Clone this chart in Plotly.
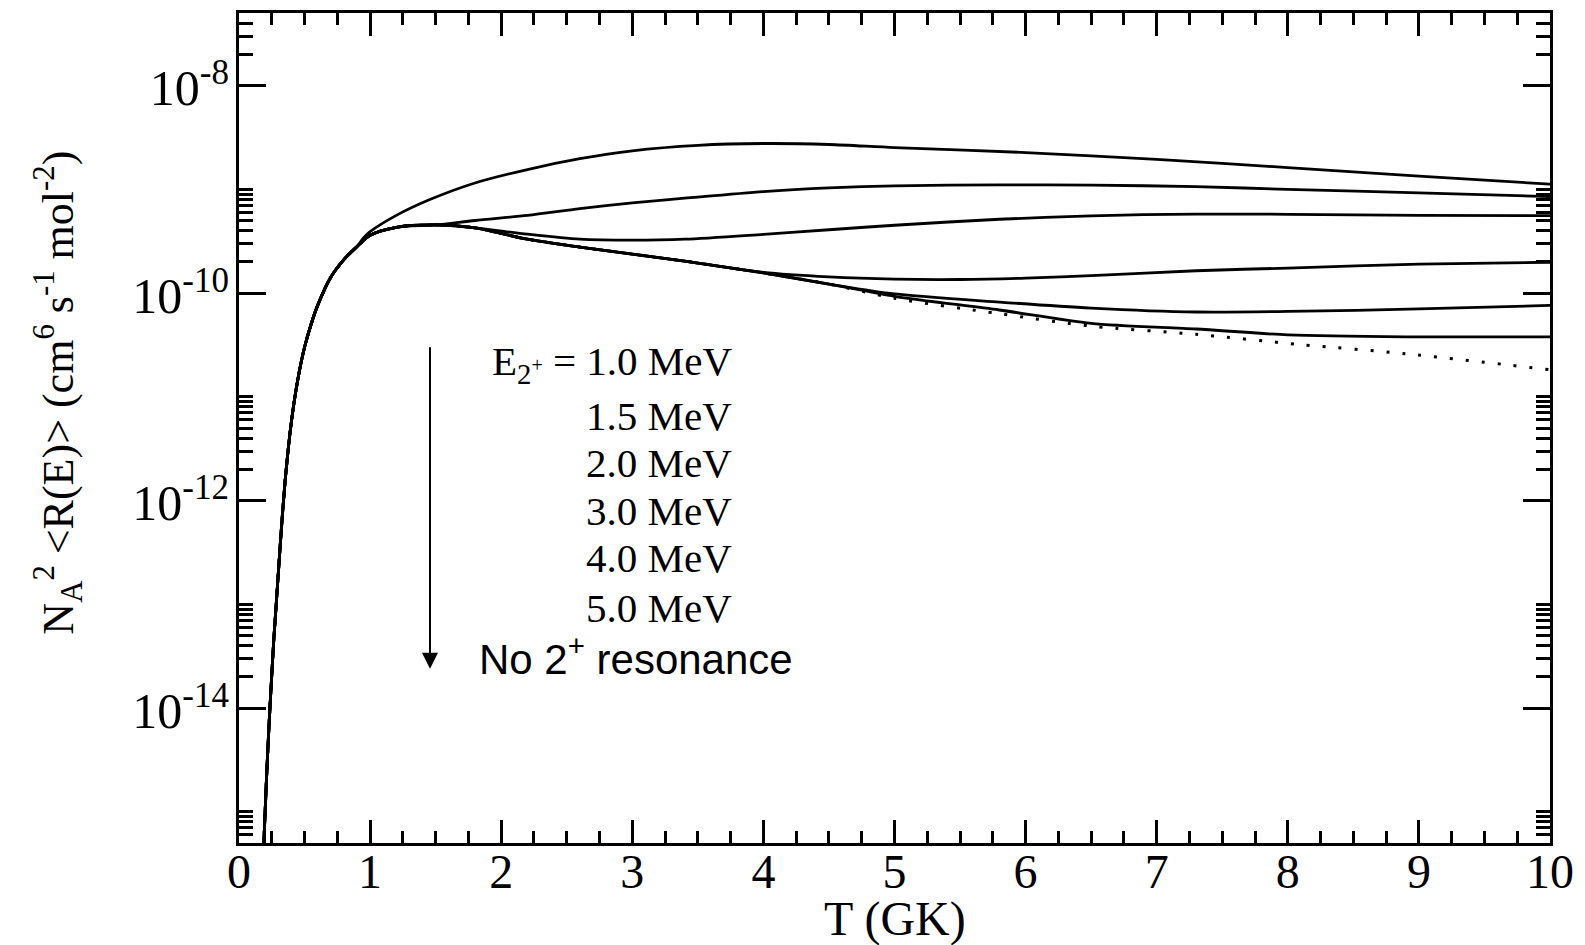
import plotly.graph_objects as go
import numpy as np

# ---------------- data ----------------
# common steep rise shared by every curve, T in GK, rate in cm^6 s^-1 mol^-2
T_rise = [0.18, 0.19, 0.20, 0.21, 0.22, 0.235, 0.25, 0.265, 0.28, 0.30, 0.33, 0.36,
          0.40, 0.45, 0.50, 0.55, 0.60, 0.70, 0.80, 0.90]
R_rise = [1.5e-16, 5.0e-16, 1.05e-15, 2.1e-15, 4.0e-15, 9.5e-15, 2.1e-14, 4.5e-14,
          8.5e-14, 2.0e-13, 7.0e-13, 2.0e-12, 5.8e-12, 1.5e-11, 3.0e-11, 5.0e-11,
          7.6e-11, 1.42e-10, 2.1e-10, 2.8e-10]

# bundle shared by all curves except E = 1.0 MeV
T_peak = [1.0, 1.2, 1.5]
R_peak = [3.6e-10, 4.3e-10, 4.53e-10]

# lower bundle (curves 3.0, 4.0, 5.0 MeV and no resonance; 2.0 MeV leaves after 1.8)
T_low = [1.8, 2.2, 2.6, 3.0, 3.4]
R_low = [4.25e-10, 3.30e-10, 2.77e-10, 2.37e-10, 2.03e-10]

# lowest bundle (4.0, 5.0 MeV and no resonance)
T_low2 = [4.0, 4.5]
R_low2 = [1.56e-10, 1.22e-10]

# individual tails
T_e10 = [0.95, 1.0, 1.2, 1.46, 1.8, 2.2, 2.6, 3.0, 3.5, 4.0, 4.5, 5.0, 6.0, 7.0, 8.0, 9.0, 10.0]
R_e10 = [3.4e-10, 3.9e-10, 5.6e-10, 8.0e-10, 1.15e-9, 1.55e-9, 1.97e-9, 2.35e-9, 2.65e-9,
         2.76e-9, 2.70e-9, 2.52e-9, 2.26e-9, 1.94e-9, 1.62e-9, 1.34e-9, 1.12e-9]

T_e15 = [1.8, 2.2, 2.6, 3.0, 3.4, 4.0, 4.5, 5.0, 5.8, 6.5, 7.3, 8.0, 9.0, 10.0]
R_e15 = [5.0e-10, 5.6e-10, 6.5e-10, 7.4e-10, 8.2e-10, 9.5e-10, 1.03e-9, 1.08e-9,
         1.10e-9, 1.096e-9, 1.06e-9, 9.98e-10, 9.23e-10, 8.49e-10]

T_e20 = [2.2, 2.6, 3.0, 3.4, 4.0, 4.5, 5.0, 5.8, 6.5, 7.3, 8.0, 9.0, 10.0]
R_e20 = [3.69e-10, 3.30e-10, 3.23e-10, 3.30e-10, 3.68e-10, 4.07e-10, 4.50e-10, 5.14e-10,
         5.55e-10, 5.77e-10, 5.74e-10, 5.61e-10, 5.57e-10]

T_e30 = [4.0, 4.5, 5.0, 5.5, 6.0, 6.5, 7.3, 8.0, 9.0, 10.0]
R_e30 = [1.58e-10, 1.43e-10, 1.36e-10, 1.35e-10, 1.39e-10, 1.47e-10, 1.64e-10, 1.74e-10,
         1.90e-10, 1.98e-10]

T_e40 = [5.0, 5.8, 6.5, 7.3, 8.0, 9.0, 10.0]
R_e40 = [9.8e-11, 8.18e-11, 7.16e-11, 6.56e-11, 6.64e-11, 7.02e-11, 7.60e-11]

T_e50 = [5.0, 5.8, 6.5, 7.3, 8.0, 8.9, 10.0]
R_e50 = [9.3e-11, 6.86e-11, 5.1e-11, 4.5e-11, 3.95e-11, 3.78e-11, 3.78e-11]

T_none = [5.0, 5.8, 6.5, 7.3, 8.1, 8.9, 10.0]
R_none = [8.9e-11, 6.32e-11, 4.8e-11, 4.0e-11, 3.18e-11, 2.6e-11, 1.82e-11]

x_ticks = list(range(0, 11))
y_ticks = [1e-14, 1e-12, 1e-10, 1e-8]
y_ticktext = ["10<sup>-14</sup>", "10<sup>-12</sup>", "10<sup>-10</sup>", "10<sup>-8</sup>"]
label_lines = ["E<sub>2<sup>+</sup></sub> = 1.0 MeV", "1.5 MeV", "2.0 MeV", "3.0 MeV",
               "4.0 MeV", "5.0 MeV"]
label_last = "No 2<sup>+</sup> resonance"

# ---------------- build curves ----------------
def cat(*parts):
    out = []
    for p in parts:
        out += list(p)
    return out

curves = [
    (cat(T_rise, T_e10), cat(R_rise, R_e10)),
    (cat(T_rise, T_peak, T_e15), cat(R_rise, R_peak, R_e15)),
    (cat(T_rise, T_peak, T_low[:1], T_e20), cat(R_rise, R_peak, R_low[:1], R_e20)),
    (cat(T_rise, T_peak, T_low, T_e30), cat(R_rise, R_peak, R_low, R_e30)),
    (cat(T_rise, T_peak, T_low, T_low2, T_e40), cat(R_rise, R_peak, R_low, R_low2, R_e40)),
    (cat(T_rise, T_peak, T_low, T_low2, T_e50), cat(R_rise, R_peak, R_low, R_low2, R_e50)),
]
dotted = (cat(T_rise, T_peak, T_low, T_low2, T_none), cat(R_rise, R_peak, R_low, R_low2, R_none))

fig = go.Figure()
fig.add_trace(go.Scatter(x=dotted[0], y=dotted[1], mode="lines",
                         line=dict(color="black", width=3, dash="3px,13px", shape="spline",
                                   smoothing=0.8), hoverinfo="skip"))
for tx, ry in curves:
    fig.add_trace(go.Scatter(x=tx, y=ry, mode="lines",
                             line=dict(color="black", width=2.8, shape="spline", smoothing=0.8),
                             hoverinfo="skip"))

serif = "Liberation Serif, Times New Roman, serif"
sans = "Liberation Sans, Arial, sans-serif"

y_minor = []
for n in [-16, -14, -12, -10, -8]:
    for k in range(2, 11):
        v = k * 10.0 ** n
        if 5e-16 <= v <= 5e-8:
            y_minor.append(v)

fig.update_xaxes(range=[0, 10], tickvals=x_ticks, ticks="inside", ticklen=23, tickwidth=3,
                 tickcolor="black", showline=True, linewidth=3, linecolor="black",
                 mirror="ticks", showgrid=False, zeroline=False,
                 tickfont=dict(family=serif, size=48, color="black"),
                 ticklabelstandoff=-16,
                 minor=dict(dtick=0.25, tick0=0, ticks="inside", ticklen=12, tickwidth=3,
                            tickcolor="black", showgrid=False))
fig.update_yaxes(type="log", range=[np.log10(5e-16), np.log10(5e-8)], tickvals=y_ticks,
                 ticktext=y_ticktext, ticks="inside", ticklen=27, tickwidth=3,
                 tickcolor="black", showline=True, linewidth=3, linecolor="black",
                 mirror="ticks", showgrid=False, zeroline=False,
                 tickfont=dict(family=serif, size=50, color="black"),
                 ticklabelstandoff=-3, ticklabelshift=2,
                 minor=dict(tickmode="array", tickvals=y_minor, ticks="inside", ticklen=14,
                            tickwidth=3, tickcolor="black", showgrid=False))

L, R, T, B = 239, 35, 10, 102
W, H = 1585, 945
pw, ph = W - L - R, H - T - B

def px_x(p):
    return (p - L) / pw

def px_y(p):
    return (H - B - p) / ph

ann = []
ann.append(dict(text="N<sub>A</sub><sup>2</sup> &lt;R(E)&gt; (cm<sup>6</sup> s<sup>-1</sup> mol<sup>-2</sup>)",
                textangle=-90, xref="paper", yref="paper", x=px_x(58), y=px_y(391),
                xanchor="center", yanchor="middle", showarrow=False,
                font=dict(family=serif, size=44, color="black")))
ann.append(dict(text="T (GK)", xref="paper", yref="paper", x=0.5, y=px_y(919),
                xanchor="center", yanchor="middle", showarrow=False,
                font=dict(family=serif, size=48, color="black")))
line_y = [362, 414, 462, 510, 557, 607]
for txt, yy in zip(label_lines, line_y):
    ann.append(dict(text=txt, xref="paper", yref="paper", x=px_x(734), y=px_y(yy),
                    xanchor="right", yanchor="middle", showarrow=False,
                    font=dict(family=serif, size=41, color="black")))
ann.append(dict(text=label_last, xref="paper", yref="paper", x=px_x(477), y=px_y(655),
                xanchor="left", yanchor="middle", showarrow=False,
                font=dict(family=sans, size=42, color="black")))
ann.append(dict(text="", xref="paper", yref="paper", x=px_x(430), y=px_y(668),
                ax=0, ay=-323, showarrow=True, arrowhead=2, arrowsize=1.6, arrowwidth=2,
                arrowcolor="black"))

fig.update_layout(width=W, height=H, margin=dict(l=L, r=R, t=T, b=B),
                  plot_bgcolor="white", paper_bgcolor="white", showlegend=False,
                  annotations=ann)

fig.write_html("out.html")
